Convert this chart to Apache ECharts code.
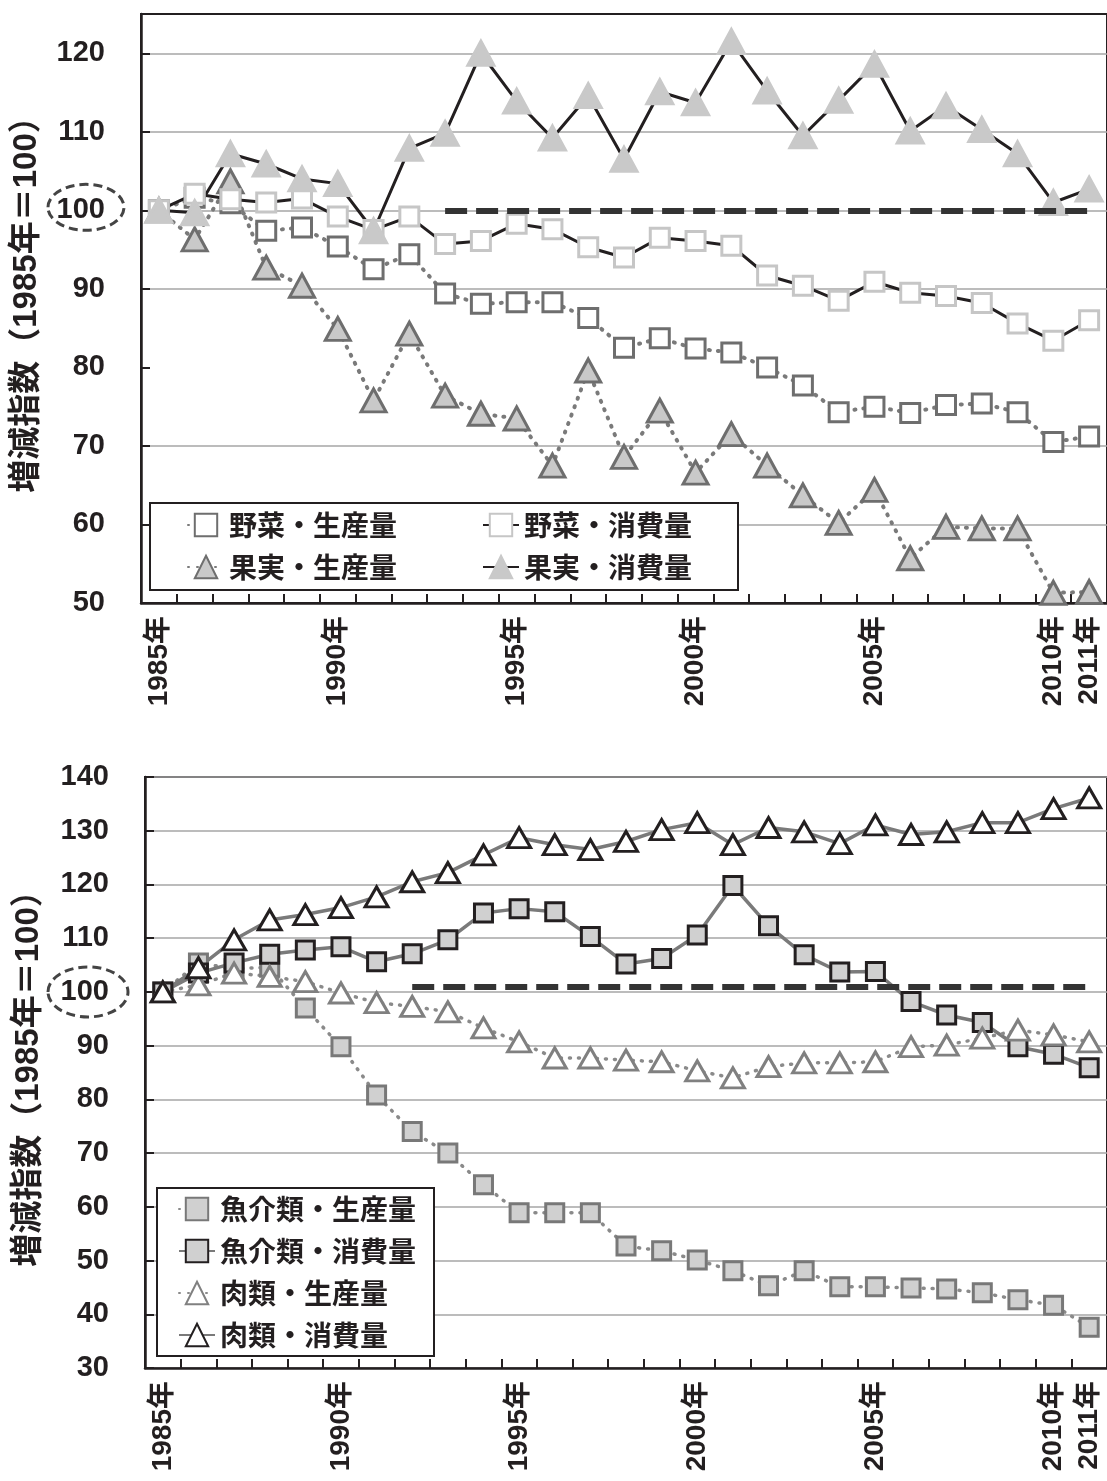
<!DOCTYPE html>
<html><head><meta charset="utf-8">
<script src="https://cdn.jsdelivr.net/npm/echarts@6/dist/echarts.min.js"></script>
<style>html,body{margin:0;padding:0;background:#fff}#c{width:1107px;height:1481px}</style>
</head><body><div id="c"></div>
<script>
const years = ['1985年','1986年','1987年','1988年','1989年','1990年','1991年','1992年','1993年','1994年','1995年','1996年','1997年','1998年','1999年','2000年','2001年','2002年','2003年','2004年','2005年','2006年','2007年','2008年','2009年','2010年','2011年'];
const labeledYears = ['1985','1990','1995','2000','2005','2010','2011'];
const yName = '増減指数（1985年＝100）';

// top chart
const vegProd   = [100,101.6,100.9,97.4,97.8,95.4,92.5,94.4,89.4,88.1,88.3,88.3,86.3,82.5,83.7,82.4,81.9,80.0,77.7,74.3,75.0,74.2,75.2,75.4,74.3,70.5,71.2];
const vegCons   = [100,102.1,101.4,101.0,101.5,99.2,97.5,99.2,95.7,96.1,98.3,97.6,95.3,94.0,96.5,96.1,95.5,91.7,90.4,88.5,90.9,89.5,89.1,88.2,85.6,83.4,86.0];
const fruitProd = [100,96.3,103.7,92.7,90.4,84.9,75.8,84.3,76.4,74.1,73.5,67.5,79.6,68.6,74.5,66.6,71.5,67.5,63.7,60.2,64.4,55.7,59.7,59.5,59.5,51.3,51.4];
const fruitCons = [100,99.7,107.2,105.9,104.0,103.4,97.4,107.9,109.8,120.0,113.9,109.2,114.6,106.5,115.1,113.7,121.5,115.2,109.5,114.0,118.6,110.1,113.3,110.3,107.2,101.0,102.7];
// bottom chart
const fishProd  = [100,105.4,104.3,104.6,97.0,89.8,80.8,74.0,70.0,64.1,58.9,58.9,58.9,52.7,51.8,50.1,48.1,45.3,48.1,45.1,45.1,44.9,44.7,44.0,42.7,41.7,37.6];
const fishCons  = [100,103.5,105.4,107.0,107.8,108.4,105.6,107.1,109.7,114.7,115.5,114.9,110.3,105.2,106.2,110.6,119.8,112.3,106.9,103.7,103.8,98.2,95.7,94.3,89.8,88.4,85.9];
const meatProd  = [100,101.3,103.5,102.9,101.9,99.8,98.0,97.3,96.3,93.3,90.7,87.7,87.7,87.3,87.0,85.3,84.0,86.1,86.8,86.8,87.0,89.8,90.1,91.4,92.9,92.0,90.7];
const meatCons  = [100,104.5,109.7,113.4,114.4,115.7,117.7,120.5,122.2,125.5,128.7,127.4,126.5,128.0,130.2,131.5,127.4,130.6,129.8,127.6,131.1,129.3,129.8,131.5,131.5,134.1,136.1];

const refTop = [['1993年',100],['2011年',100]];
const refBottom = [['1992年',101],['2011年',101]];

const NUMFONT = '"Liberation Sans","Noto Sans CJK JP",sans-serif';
const CJKFONT = '"Noto Sans CJK JP",sans-serif';
const INK = '#231f20';

function xAxisCfg(gi){
  return {
    type:'category', gridIndex:gi, data:years, boundaryGap:true,
    axisLine:{show:true,lineStyle:{color:INK,width:2.5}},
    axisTick:{show:true,inside:true,length:9,interval:0,alignWithLabel:false,lineStyle:{color:INK,width:2}},
    axisLabel:{
      interval:(i,v)=>labeledYears.indexOf(v.slice(0,4))>=0,
      rotate:90, margin:13, fontSize:28, fontWeight:'bold', color:INK, fontFamily:NUMFONT
    },
    splitLine:{show:false}
  };
}
function yAxisCfg(gi,min,max,gridColors,namePad){
  return {
    type:'value', gridIndex:gi, min:min, max:max, interval:10,
    name:yName, nameLocation:'middle', nameGap:98, nameRotate:90,
    nameTextStyle:{fontSize:33,fontWeight:'bold',color:INK,fontFamily:NUMFONT,padding:namePad},
    axisLine:{show:true,lineStyle:{color:INK,width:2.5}},
    axisTick:{show:true,inside:true,length:9,lineStyle:{color:INK,width:2}},
    axisLabel:{showMaxLabel:gi===1,margin:36,fontSize:29,fontWeight:'bold',color:INK,fontFamily:NUMFONT},
    splitLine:{show:true,lineStyle:{color:gridColors,width:1.5}}
  };
}
const dotted = (c,w)=>({color:c,width:w,type:[1,8],cap:'round'});
function ser(name,data,gi,symbol,size,fill,border,line){
  return {name, type:'line', xAxisIndex:gi, yAxisIndex:gi, data, symbol, symbolSize:size,
    showAllSymbol:true, lineStyle:line, itemStyle:{color:fill,borderColor:border,borderWidth:3,opacity:1},
    emphasis:{disabled:true}, animation:false};
}
const dashLine = (pts)=>({silent:true,symbol:'none',label:{show:false},animation:false,
  lineStyle:{color:'#333',width:6,type:[22,9],cap:'butt'},
  data:[[{coord:pts[0]},{coord:pts[1]}]]});

const T='rgba(0,0,0,0)', G='#a6a6a6';
const series = [
  ser('野菜・生産量',vegProd,0,'rect',19,'#fff','#6e6e6e',dotted('#7a7a7a',4)),
  ser('果実・生産量',fruitProd,0,'triangle',[25,23],'#c9c9c9','#6e6e6e',dotted('#7a7a7a',4)),
  ser('野菜・消費量',vegCons,0,'rect',19,'#fff','#c6c6c6',{color:INK,width:3}),
  ser('果実・消費量',fruitCons,0,'triangle',[26,24],'#c9c9c9','#c9c9c9',{color:INK,width:3}),
  ser('魚介類・生産量',fishProd,1,'rect',18,'#d0d0d0','#787878',dotted('#8a8a8a',3.5)),
  ser('魚介類・消費量',fishCons,1,'rect',18,'#d0d0d0',INK,{color:'#7a7a7a',width:3.5}),
  ser('肉類・生産量',meatProd,1,'triangle',[23,20],'#fff','#808080',dotted('#8a8a8a',3.5)),
  ser('肉類・消費量',meatCons,1,'triangle',[23,20],'#fff',INK,{color:'#7a7a7a',width:3.5})
];
series[3].markLine = dashLine(refTop);
series[7].markLine = dashLine(refBottom);

const legText = {fontSize:28,fontWeight:'bold',color:INK,fontFamily:CJKFONT};
const legBase = {orient:'vertical',itemWidth:36,itemHeight:28,itemGap:14,textStyle:legText,z:20,selectedMode:false,padding:0};

const chart = echarts.init(document.getElementById('c'),null,{renderer:'canvas'});
chart.setOption({
  backgroundColor:'#fff',
  animation:false,
  grid:[
    {left:141,top:14,width:966,height:589,show:true,borderColor:INK,borderWidth:2,backgroundColor:'transparent',containLabel:false},
    {left:145,top:777,width:968,height:591,show:true,borderColor:INK,borderWidth:2,backgroundColor:'transparent',containLabel:false}
  ],
  xAxis:[xAxisCfg(0),xAxisCfg(1)],
  yAxis:[
    yAxisCfg(0,50,125,[T,G,G,T,G,G,G,G,T],[0,0,0,24]),
    Object.assign(yAxisCfg(1,30,140,[G],[0,0,0,4]),{nameGap:100})
  ],
  legend:[
    Object.assign({},legBase,{data:['野菜・生産量','果実・生産量'],left:187,top:511}),
    Object.assign({},legBase,{data:['野菜・消費量','果実・消費量'],left:482,top:511}),
    Object.assign({},legBase,{data:['魚介類・生産量','魚介類・消費量','肉類・生産量','肉類・消費量'],left:157,top:1188,
      padding:[7,18,7,21],borderColor:INK,borderWidth:2,backgroundColor:'#fff'})
  ],
  series
});
const cy0 = chart.convertToPixel({yAxisIndex:0},100);
const cy1 = chart.convertToPixel({yAxisIndex:1},100);
chart.setOption({graphic:[
  {type:'rect',z:10,shape:{x:150,y:503,width:588,height:87},style:{fill:'#fff',stroke:INK,lineWidth:2}},
  {type:'ellipse',z:10,shape:{cx:86,cy:cy0-3,rx:38,ry:23},style:{fill:'none',stroke:'#444',lineWidth:3,lineDash:[9,5]}},
  {type:'ellipse',z:10,shape:{cx:88,cy:cy1,rx:40,ry:25},style:{fill:'none',stroke:'#444',lineWidth:3,lineDash:[9,5]}}
]});
</script></body></html>
